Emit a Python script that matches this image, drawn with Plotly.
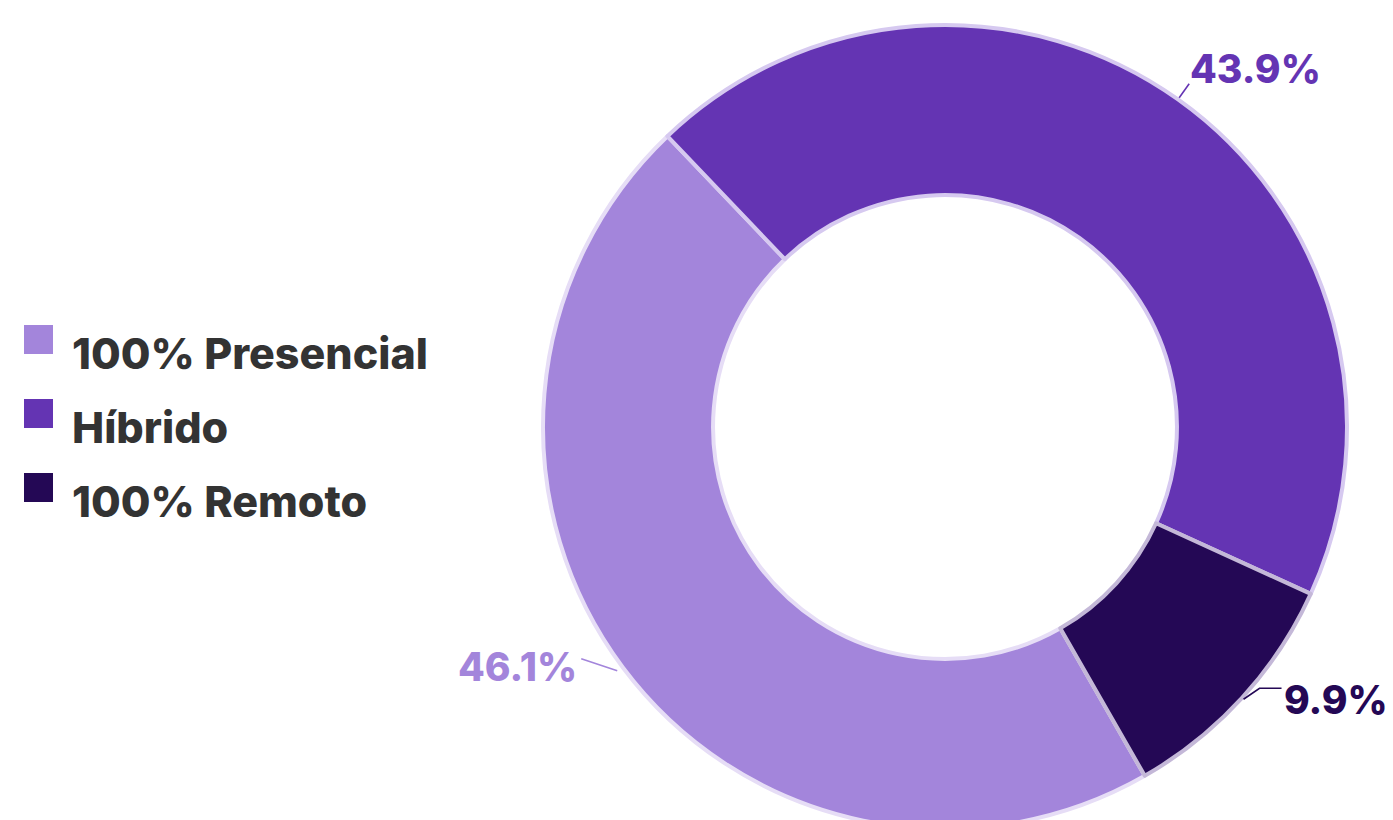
import math
import plotly.graph_objects as go

# Work arrangement shares (%)
labels = ["100% Presencial", "Híbrido", "100% Remoto"]
values = [46.1, 43.9, 9.9]
colors = ["#a385db", "#6434b3", "#240855"]
outline_colors = ["#e6ddf6", "#d6c9f0", "#c4b8d8"]

W, H = 1393, 850
CX, CY, R = 945, 427, 402          # donut centre and outer radius in pixels
START = 150.2                      # clockwise angle (from 12 o'clock) where the first slice starts
FONT = "Inter"
TEXT_COLOR = "#333333"


def px(x):
    return x / W


def py(y):
    return 1 - y / H


fig = go.Figure(
    go.Pie(
        labels=labels,
        values=values,
        sort=False,
        direction="clockwise",
        rotation=START,
        hole=0.577,
        marker=dict(colors=colors, line=dict(color=outline_colors, width=4)),
        textinfo="none",
        hoverinfo="label+percent",
        showlegend=False,
        domain=dict(x=[px(CX - R), px(CX + R)], y=[py(CY + R), py(CY - R)]),
    )
)

# Percentage labels with leader lines from the middle of each slice's outer edge:
# each leader is a polyline given as pixel offsets from the slice tip
leaders = [
    [(-4, 2), (-40, -10)],
    [(0, 0), (10, -14)],
    [(0, 0), (16, -11), (38, -11)],
]
text_offsets = [(-43, -2), (10, -29), (39, 0)]
total = sum(values)
angle = START
annotations = []
shapes = []
for val, col, pts, (ox, oy) in zip(values, colors, leaders, text_offsets):
    sweep = 360 * val / total
    mid = math.radians(angle + sweep / 2)
    angle += sweep
    tip_x = CX + (R + 2) * math.sin(mid)
    tip_y = CY - (R + 2) * math.cos(mid)
    path = " ".join(
        f"{'M' if k == 0 else 'L'} {px(tip_x + dx):.5f} {py(tip_y + dy):.5f}"
        for k, (dx, dy) in enumerate(pts)
    )
    shapes.append(dict(type="path", xref="paper", yref="paper", path=path,
                       line=dict(color=col, width=1.6)))
    annotations.append(
        dict(
            x=px(tip_x + ox), y=py(tip_y + oy), xref="paper", yref="paper",
            text=f"{val}%", showarrow=False, borderpad=0,
            xanchor="right" if ox < 0 else "left", yanchor="middle",
            font=dict(family=FONT, size=39, color=col, weight=800),
        )
    )

# Legend drawn as coloured squares and labels
LEG_X, LEG_Y0, LEG_STEP, SQ = 24, 325, 74, 29
for i, (lab, col) in enumerate(zip(labels, colors)):
    top = LEG_Y0 + i * LEG_STEP
    shapes.append(
        dict(type="rect", xref="paper", yref="paper",
             x0=px(LEG_X), x1=px(LEG_X + SQ), y0=py(top + SQ), y1=py(top),
             fillcolor=col, line=dict(width=0))
    )
    annotations.append(
        dict(x=px(70), y=py(top + 28), xref="paper", yref="paper",
             text=lab, showarrow=False, xanchor="left", yanchor="middle",
             font=dict(family=FONT, size=43, color=TEXT_COLOR, weight=800))
    )

fig.update_layout(
    width=W, height=H,
    margin=dict(l=0, r=0, t=0, b=0),
    paper_bgcolor="white", plot_bgcolor="white",
    annotations=annotations, shapes=shapes,
)

fig.write_html(
    "out.html",
    post_script="document.body.style.margin='0';document.body.style.overflow='hidden';",
)
